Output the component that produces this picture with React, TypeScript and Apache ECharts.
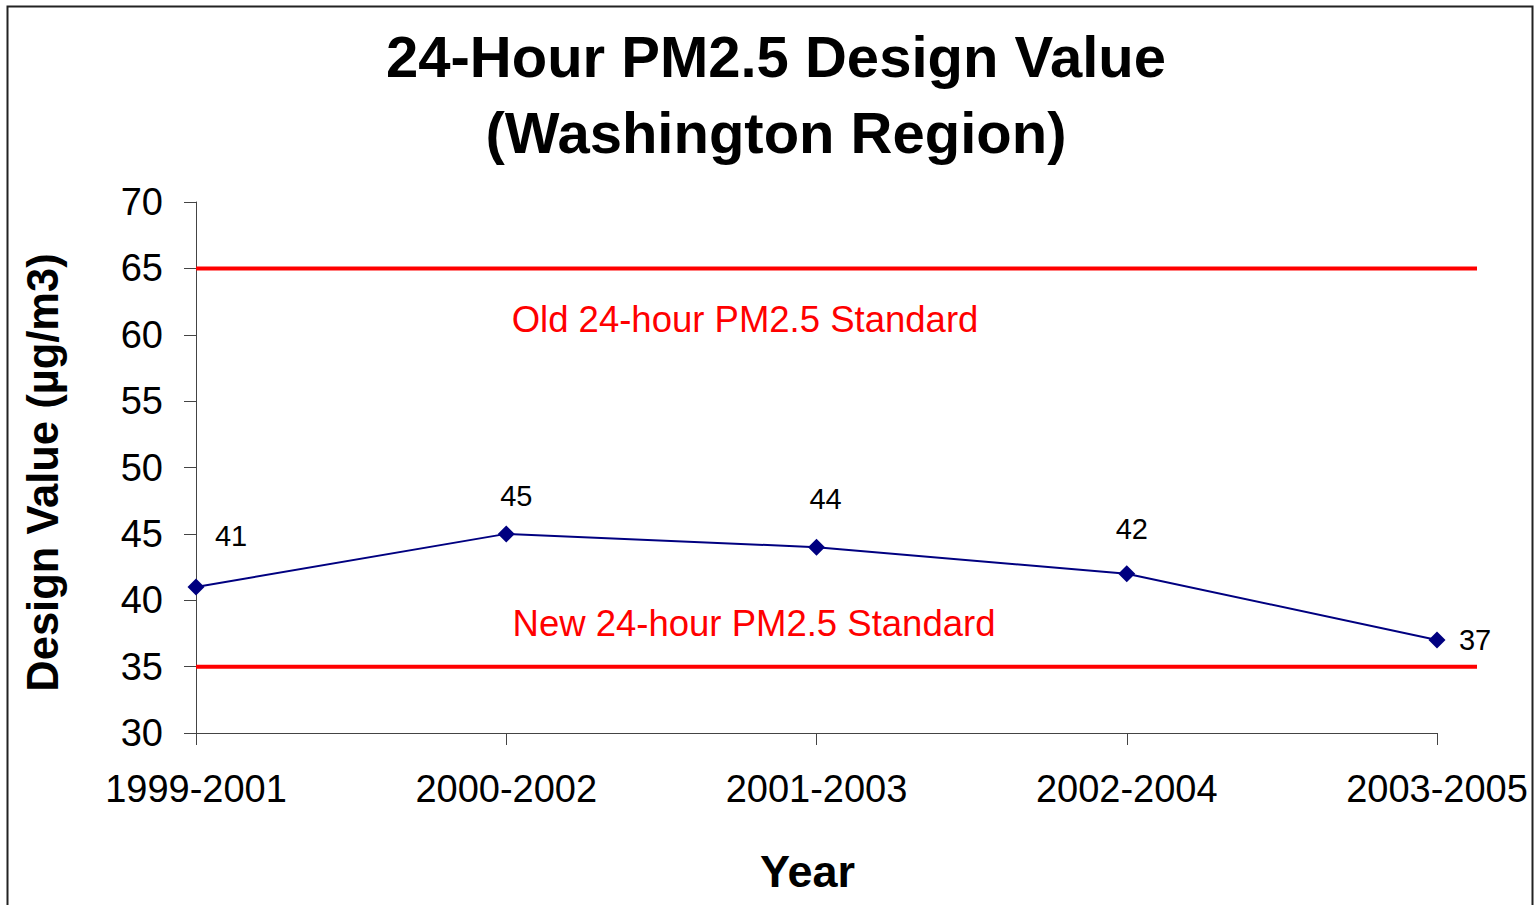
import React, { useEffect, useRef } from "react";
import * as echarts from "echarts";

const categories = ["1999-2001", "2000-2002", "2001-2003", "2002-2004", "2003-2005"];
const designValues = [41, 45, 44, 42, 37];
const oldStandard = 65;
const newStandard = 35;
const yTicks = { min: 30, max: 70, interval: 5 };
const titleLines = ["24-Hour PM2.5 Design Value", "(Washington Region)"];
const oldLabel = "Old 24-hour PM2.5 Standard";
const newLabel = "New 24-hour PM2.5 Standard";
// label offsets (pixels) for each data label, style only
const labelOffsets = [
  [35, -51],
  [10, -38],
  [9, -48],
  [5, -45],
  [38, 0],
];

const FONT = "'Liberation Sans', Arial, sans-serif";

export default function App() {
  const ref = useRef<HTMLDivElement>(null);
  useEffect(() => {
    if (!ref.current) return;
    const chart = echarts.init(ref.current, undefined, { renderer: "svg" });
    const axisColor = "#444";
    chart.setOption({
      animation: false,
      backgroundColor: "#fff",
      title: {
        text: titleLines.join("\n"),
        left: 771,
        top: 13,
        textAlign: "center",
        textStyle: {
          fontFamily: FONT,
          fontWeight: "bold",
          fontSize: 58,
          lineHeight: 76,
          color: "#000",
        },
      },
      grid: [
        { left: 196, top: 202, width: 1241, height: 531, containLabel: false },
        { left: 196, top: 202, width: 1281, height: 531, containLabel: false },
      ],
      xAxis: [
        {
          type: "category",
          gridIndex: 0,
          data: categories,
          boundaryGap: false,
          name: "Year",
          nameLocation: "middle",
          nameGap: 116,
          nameTextStyle: {
            fontFamily: FONT,
            fontWeight: "bold",
            fontSize: 45,
            color: "#000",
            padding: [0, 18, 0, 0],
          },
          axisLine: { lineStyle: { color: axisColor, width: 1 } },
          axisTick: { show: true, length: 12, alignWithLabel: true, lineStyle: { color: axisColor } },
          axisLabel: { fontFamily: FONT, fontSize: 38, color: "#000", margin: 37, interval: 0 },
          splitLine: { show: false },
        },
        {
          type: "value",
          gridIndex: 1,
          min: 0,
          max: 1,
          show: false,
        },
      ],
      yAxis: [
        {
          type: "value",
          gridIndex: 0,
          min: yTicks.min,
          max: yTicks.max,
          interval: yTicks.interval,
          name: "Design Value (µg/m3)",
          nameLocation: "middle",
          nameRotate: 90,
          nameGap: 131,
          nameTextStyle: {
            fontFamily: FONT,
            fontWeight: "bold",
            fontSize: 43.5,
            color: "#000",
            padding: [0, 10, 0, 0],
          },
          axisLine: { show: true, lineStyle: { color: axisColor, width: 1 } },
          axisTick: { show: true, length: 12, lineStyle: { color: axisColor } },
          axisLabel: { fontFamily: FONT, fontSize: 38, color: "#000", margin: 33 },
          splitLine: { show: false },
        },
        {
          type: "value",
          gridIndex: 1,
          min: yTicks.min,
          max: yTicks.max,
          interval: yTicks.interval,
          show: false,
        },
      ],
      series: [
        {
          type: "line",
          xAxisIndex: 1,
          yAxisIndex: 1,
          data: [[0, oldStandard], [1, oldStandard]],
          showSymbol: false,
          symbol: "none",
          lineStyle: { color: "#ff0000", width: 4 },
          z: 1,
        },
        {
          type: "line",
          xAxisIndex: 1,
          yAxisIndex: 1,
          data: [[0, newStandard], [1, newStandard]],
          showSymbol: false,
          symbol: "none",
          lineStyle: { color: "#ff0000", width: 4 },
          z: 1,
        },
        {
          type: "line",
          xAxisIndex: 0,
          yAxisIndex: 0,
          data: designValues.map((v, i) => ({
            value: v,
            label: { offset: labelOffsets[i] },
          })),
          symbol: "diamond",
          symbolSize: 17,
          itemStyle: { color: "#000080" },
          lineStyle: { color: "#000080", width: 2 },
          z: 3,
          label: {
            show: true,
            position: "inside",
            fontFamily: FONT,
            fontSize: 29,
            color: "#000",
          },
        },
      ],
      graphic: [
        {
          type: "rect",
          shape: { x: 7.5, y: 6.5, width: 1525, height: 1000 },
          style: { fill: "none", stroke: "#222", lineWidth: 2 },
          silent: true,
          z: 100,
        },
        {
          type: "text",
          x: 745,
          y: 319,
          style: {
            text: oldLabel,
            fontFamily: FONT,
            fontSize: 36.5,
            fill: "#ff0000",
            textAlign: "center",
            textVerticalAlign: "middle",
          },
        },
        {
          type: "text",
          x: 754,
          y: 623,
          style: {
            text: newLabel,
            fontFamily: FONT,
            fontSize: 36.5,
            fill: "#ff0000",
            textAlign: "center",
            textVerticalAlign: "middle",
          },
        },
      ],
    });
    return () => chart.dispose();
  }, []);
  return (
    <div
      ref={ref}
      style={{ position: "absolute", left: 0, top: 0, width: 1534, height: 905 }}
    />
  );
}
